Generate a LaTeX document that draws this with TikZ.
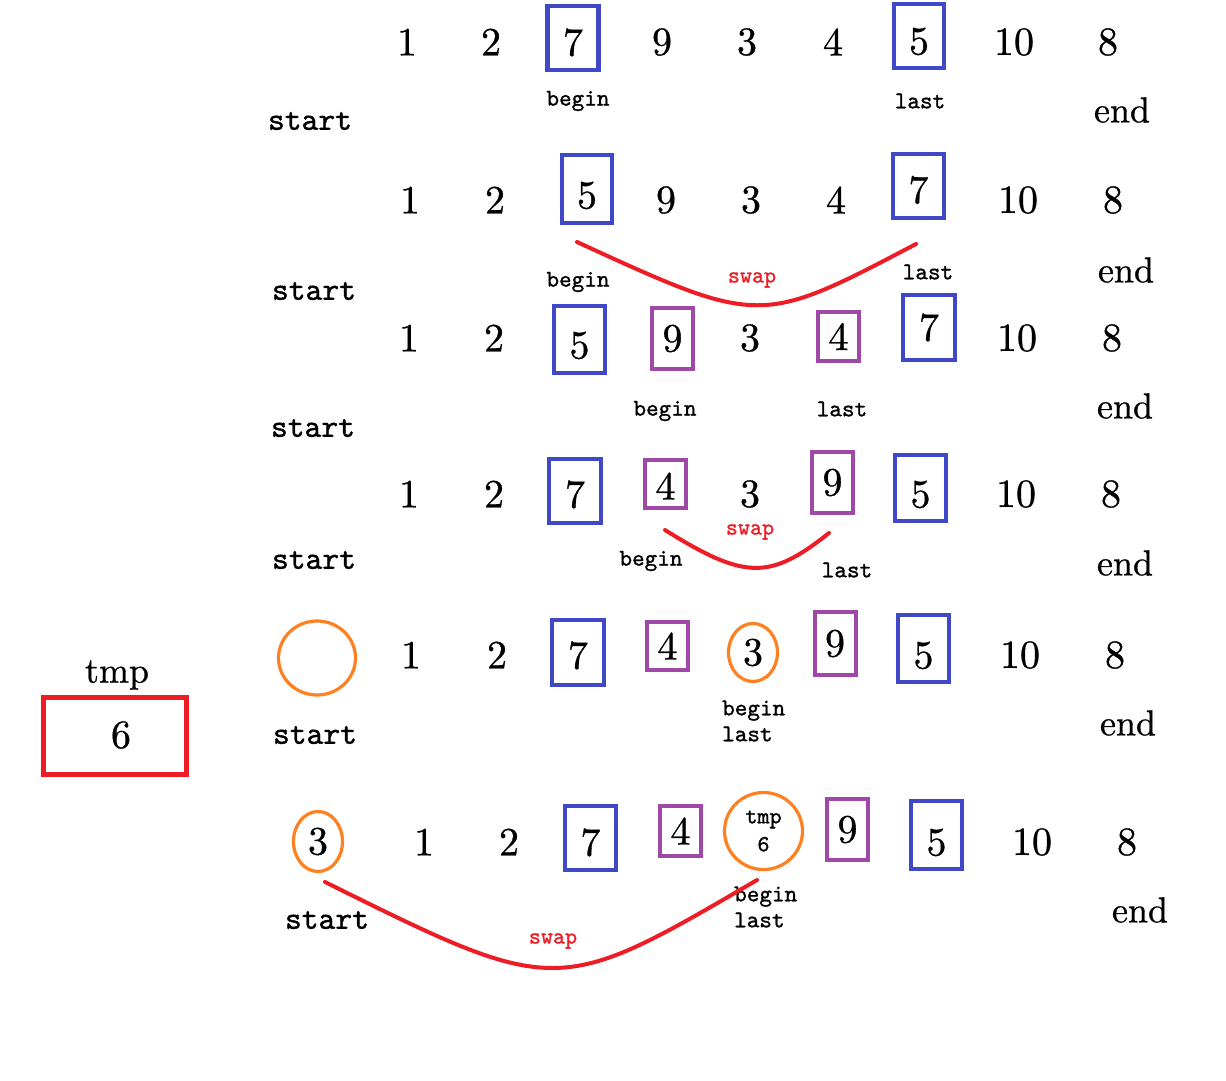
\documentclass[tikz,border=0pt]{standalone}
\usepackage{fontspec}
\newfontfamily\monof{lmmono10-regular.otf}[FakeBold=1.2]
\newfontfamily\numf{lmroman10-regular.otf}[FakeBold=0.8]
\usetikzlibrary{shapes.geometric}
\definecolor{bcol}{HTML}{4048C8}
\definecolor{pcol}{HTML}{A048A8}
\definecolor{ocol}{HTML}{FF8020}
\definecolor{rcol}{HTML}{EE1C25}
\newcommand\lowr[2]{\raisebox{-#1}[\height][0pt]{#2}}
\begin{document}
\begin{tikzpicture}[x=1pt,y=-1pt,
  num/.style={font=\numf\fontsize{40}{40}\selectfont, inner sep=0pt},
  bbox/.style={num, draw=bcol, line width=4.5pt, minimum width=#1},
  bbox/.default=51,
  pbox/.style={num, draw=pcol, line width=4pt, minimum width=41},
  ocirc/.style={ellipse, draw=ocol, line width=3.2pt, inner sep=0pt},
  lbl/.style={font=\monof\fontsize{24}{26}\selectfont, inner sep=0pt},
  startlbl/.style={font=\monof\fontsize{32}{34}\selectfont, inner sep=0pt},
  endlbl/.style={font=\numf\fontsize{36}{38}\selectfont, inner sep=0pt},
  swaplbl/.style={font=\monof\fontsize{23}{24}\selectfont, text=rcol, inner sep=0pt},
  swapline/.style={draw=rcol, line width=4pt, line cap=round}
]
\useasboundingbox[fill=white] (0,0) rectangle (1226,1080);

% ---------- Row 1 ----------
\node[num] (a1) at (407,42) {1};
\node[num] (a2) at (491,42) {2};
\node[bbox, minimum height=64] (a3) at (573,38) {\lowr{4pt}{7}};
\node[num] (a4) at (662,42) {9};
\node[num] (a5) at (747,42) {3};
\node[num] (a6) at (833,42) {4};
\node[bbox=50, minimum height=64] (a7) at (919,36) {\lowr{5pt}{5}};
\node[num] (a8) at (1014,42) {10};
\node[num] (a9) at (1108,42) {8};
\node[lbl] (ab) at (578,101) {begin};
\node[lbl] (al) at (920,101) {last};
\node[startlbl] (as) at (310,121) {start};
\node[endlbl] (ae) at (1122,110) {end};

% ---------- Row 2 ----------
\node[num] (b1) at (410,200) {1};
\node[num] (b2) at (495,200) {2};
\node[bbox=50, minimum height=68] (b3) at (587,189) {\lowr{6pt}{5}};
\node[num] (b4) at (666,200) {9};
\node[num] (b5) at (751,200) {3};
\node[num] (b6) at (836,200) {4};
\node[bbox, minimum height=64] (b7) at (918.5,186) {\lowr{3.5pt}{7}};
\node[num] (b8) at (1018,200) {10};
\node[num] (b9) at (1113,200) {8};
\node[lbl] (bb) at (578,282) {begin};
\node[lbl] (bl) at (928,272) {last};
\node[startlbl] (bs) at (314,291) {start};
\node[endlbl] (be) at (1126,270) {end};
\coordinate (bsa) at (577,242);
\coordinate (bsb) at (916,244);
\draw[swapline] (bsa) .. controls (760,326) .. (bsb);
\node[swaplbl] (bw) at (752,280) {swap};

% ---------- Row 3 ----------
\node[num] (c1) at (409,338) {1};
\node[num] (c2) at (494,338) {2};
\node[bbox, minimum height=67] (c3) at (579.5,339.5) {\lowr{5.5pt}{5}};
\node[pbox, minimum height=61] (c4) at (672.5,338.5) {9};
\node[num] (c5) at (750,338) {3};
\node[pbox, minimum height=49] (c6) at (838.5,336.5) {4};
\node[bbox=52, minimum height=65] (c7) at (929,327.5) {7};
\node[num] (c8) at (1017,338) {10};
\node[num] (c9) at (1112,338) {8};
\node[lbl] (cb) at (665,411) {begin};
\node[lbl] (cl) at (842,409) {last};
\node[startlbl] (cs) at (313,428) {start};
\node[endlbl] (ce) at (1125,406) {end};

% ---------- Row 4 ----------
\node[num] (d1) at (409,494) {1};
\node[num] (d2) at (494,494) {2};
\node[bbox=52, minimum height=64] (d3) at (575,491) {\lowr{3pt}{7}};
\node[pbox, minimum height=48] (d4) at (665.5,484) {\lowr{2pt}{4}};
\node[num] (d5) at (750,494) {3};
\node[pbox, minimum height=61] (d6) at (832.5,482.5) {9};
\node[bbox, minimum height=66] (d7) at (920.5,488) {\lowr{6pt}{5}};
\node[num] (d8) at (1016,494) {10};
\node[num] (d9) at (1111,494) {8};
\node[lbl] (db) at (651,561) {begin};
\node[lbl] (dl) at (847,570) {last};
\node[startlbl] (ds) at (314,560) {start};
\node[endlbl] (de) at (1125,563) {end};
\coordinate (dsa) at (665,530);
\coordinate (dsb) at (829,533);
\draw[swapline] (dsa) .. controls (745,580) and (770,580) .. (dsb);
\node[swaplbl] (dw) at (750,532) {swap};

% ---------- Row 5 ----------
\node[ocirc, minimum width=77, minimum height=74] (e0) at (317,658) {};
\node[num] (e1) at (411,655) {1};
\node[num] (e2) at (497,655) {2};
\node[bbox=52, minimum height=65] (e3) at (578,652.5) {\lowr{2.5pt}{7}};
\node[pbox, minimum height=48] (e4) at (667.5,646) {4};
\node[ocirc, num, minimum width=49, minimum height=58] (e5) at (753,652.5) {3};
\node[pbox=42, minimum height=63] (e6) at (835,643.5) {9};
\node[bbox, minimum height=67] (e7) at (923.5,648.5) {\lowr{6.5pt}{5}};
\node[num] (e8) at (1020,655) {10};
\node[num] (e9) at (1115,655) {8};
\node[lbl, anchor=west, align=left] (ebl) at (722,721) {begin\\last};
\node[startlbl] (es) at (315,735) {start};
\node[endlbl] (ee) at (1128,723) {end};

% tmp box
\node[font=\numf\fontsize{36}{38}\selectfont, inner sep=0pt] (tl) at (117,675) {tmp};
\node[draw=rcol, line width=5pt, minimum width=143, minimum height=77, inner sep=0pt] (tb) at (115,736) {};
\node[num] (tv) at (121,735) {6};

% ---------- Row 6 ----------
\node[ocirc, num, minimum width=49, minimum height=60] (f0) at (318,841.5) {3};
\node[num] (f1) at (424,842) {1};
\node[num] (f2) at (509,842) {2};
\node[bbox, minimum height=64] (f3) at (590.5,838) {\lowr{4pt}{7}};
\node[pbox, minimum height=50] (f4) at (680.5,831) {4};
\node[ocirc, minimum width=78, minimum height=77, align=center,
      font=\monof\fontsize{23}{28}\selectfont] (f5) at (763.5,831) {tmp\\6};
\node[pbox, minimum height=61] (f6) at (847.5,829.5) {9};
\node[bbox, minimum height=68] (f7) at (936.5,835) {\lowr{7pt}{5}};
\node[num] (f8) at (1032,842) {10};
\node[num] (f9) at (1127,842) {8};
\node[lbl, anchor=west, align=left] (fbl) at (734,907) {begin\\last};
\node[startlbl] (fs) at (327,920) {start};
\node[endlbl] (fe) at (1140,910) {end};
\coordinate (fsa) at (325,882);
\coordinate (fsb) at (757,880);
\draw[swapline] (fsa) .. controls (557,997) .. (fsb);
\node[swaplbl] (fw) at (553,941) {swap};
\end{tikzpicture}
\end{document}
